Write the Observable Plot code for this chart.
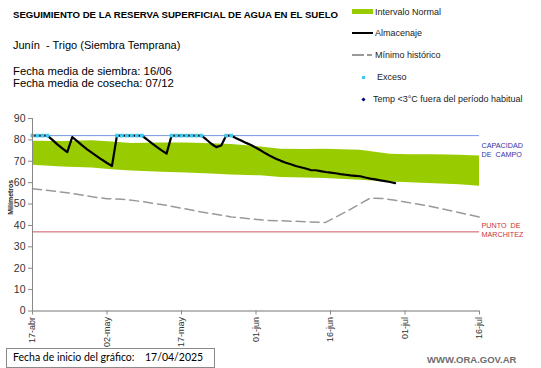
<!DOCTYPE html>
<html>
<head>
<meta charset="utf-8">
<script src="https://cdn.jsdelivr.net/npm/d3@7"></script>
<script src="https://cdn.jsdelivr.net/npm/@observablehq/plot@0.6"></script>
<style>
  html, body { margin: 0; padding: 0; background: #fff; }
  #wrap { position: relative; width: 541px; height: 368px; overflow: hidden; font-family: "Liberation Sans", Arial, sans-serif; color: #000; }
  #wrap svg { position: absolute; left: 0; top: 0; }
  .t { position: absolute; line-height: 1; white-space: pre; }
  .lg { color: #222; }
</style>
</head>
<body>
<div id="wrap"></div>
<script>
// ---- data ----
const startDate = "2025-04-17";
const title = "SEGUIMIENTO DE LA RESERVA SUPERFICIAL DE AGUA EN EL SUELO";
const subtitleLines = ["Junín  - Trigo (Siembra Temprana)", "Fecha media de siembra: 16/06", "Fecha media de cosecha: 07/12"];
const legendLabels = ["Intervalo Normal", "Almacenaje", "Mínimo histórico", "Exceso", "Temp <3°C fuera del período habitual"];

const xTickDays = [0, 15, 30, 45, 60, 75, 90];
const xTickLabels = ["17-abr", "02-may", "17-may", "01-jun", "16-jun", "01-jul", "16-jul"];
const yTicks = [0, 10, 20, 30, 40, 50, 60, 70, 80, 90];

const capacity = 82;
const wilting = 37;
const capacityLabel = "CAPACIDAD\nDE  CAMPO";
const wiltingLabel = "PUNTO  DE\nMARCHITEZ";

// Intervalo normal (band)
const bandDays = [0, 6, 12, 16, 20, 26, 31, 36, 40, 46, 50, 55, 59, 66, 72, 76, 81, 86, 90];
const bandLow  = [68.1, 67.3, 66.9, 66.0, 65.5, 64.9, 64.5, 64.0, 63.6, 63.2, 62.4, 62.2, 61.9, 61.1, 60.3, 60.0, 59.5, 59.0, 58.3];
const bandHigh = [79.4, 79.2, 79.6, 79.0, 78.3, 78.6, 78.6, 78.2, 77.8, 76.7, 75.6, 75.5, 75.6, 75.1, 73.3, 73.0, 73.1, 72.8, 72.5];

// Mínimo histórico
const minDays   = [0, 7, 12, 15, 18, 22, 27, 34, 40, 47, 52, 59, 64, 68, 71, 75, 80, 85, 90];
const minValues = [57.2, 55.3, 53.4, 52.5, 52.3, 51.2, 49.4, 46.3, 44.0, 42.4, 42.0, 41.4, 47.5, 52.8, 52.5, 51.0, 49.0, 46.5, 43.9];

// Almacenaje (daily from start date)
const storage = [82, 82, 82, 82, 80, 77.9, 76, 74.3, 81.3, 79.4, 77.4, 75.6, 73.9, 72.3, 70.7, 69.2, 67.8,
  82, 82, 82, 82, 82, 82, 80.3, 78.5, 76.7, 75.1, 73.6,
  82, 82, 82, 82, 82, 82, 82, 80.2, 78.2, 76.6, 77.4, 82, 82,
  80.8, 79.7, 78.6, 77.6, 76.3, 75, 73.6, 72.3, 71.2, 70.2, 69.3, 68.6, 67.8, 67.2, 66.6, 65.9, 65.8, 65.4,
  65.0, 64.7, 64.4, 64.0, 63.7, 63.4, 63.2, 63.0, 62.4, 61.9, 61.5, 61.1, 60.7, 60.3, 59.8];

// Exceso days
const excessDays = [0, 1, 2, 3, 17, 18, 19, 20, 21, 22, 28, 29, 30, 31, 32, 33, 34, 39, 40];

// ---- build ----
const t0 = Date.parse(startDate + "T00:00:00Z");
const day = d => new Date(t0 + d * 864e5);

const band = bandDays.map((d, i) => ({date: day(d), low: bandLow[i], high: bandHigh[i]}));
const minHist = minDays.map((d, i) => ({date: day(d), v: minValues[i]}));
const store = storage.map((v, i) => ({date: day(i), v}));
const excess = excessDays.map(d => ({date: day(d), v: storage[d]}));
const tickDates = xTickDays.map(day);
const tickLabelMap = new Map(tickDates.map((d, i) => [+d, xTickLabels[i]]));

const chart = Plot.plot({
  width: 541,
  height: 368,
  marginLeft: 32,
  marginRight: 62,
  marginTop: 118,
  marginBottom: 57.5,
  style: {fontFamily: "'Liberation Sans', Arial, sans-serif", background: "transparent", overflow: "visible", color: "#222"},
  x: {type: "utc", domain: [day(0), day(90)]},
  y: {domain: [0, 90]},
  marks: [
    Plot.areaY(band, {x: "date", y1: "low", y2: "high", fill: "#99cc00"}),
    Plot.ruleY([capacity], {stroke: "#7399dd", strokeWidth: 1}),
    Plot.ruleY([wilting], {stroke: "#cc5a66", strokeWidth: 1}),
    Plot.lineY(minHist, {x: "date", y: "v", stroke: "#999", strokeWidth: 1.5, strokeDasharray: "9,5"}),
    Plot.lineY(store, {x: "date", y: "v", stroke: "#000", strokeWidth: 2.2}),
    Plot.dot(excess, {x: "date", y: "v", symbol: "square", r: 2.1, fill: "#40c8f0", stroke: "none"}),
    Plot.ruleX([day(0)], {stroke: "#888", strokeWidth: 1}),
    Plot.ruleY([0], {stroke: "#777", strokeWidth: 1.2}),
    Plot.axisY({ticks: yTicks, tickSize: 4, tickPadding: 3, fontSize: 10.5, label: null, stroke: "#888", fill: "#333"}),
    Plot.axisX({ticks: tickDates, tickFormat: d => tickLabelMap.get(+d), tickRotate: -90, tickSize: 4, tickPadding: 2, fontSize: 9, label: null, stroke: "#888", fill: "#333"}),
    Plot.text(["Milímetros"], {frameAnchor: "left", dx: -22, rotate: -90, fontWeight: "bold", fontSize: 7, fill: "#222"}),
    Plot.text([capacityLabel], {x: () => day(90), y: () => capacity, dx: 2, dy: 14, textAnchor: "start", fontSize: 7.2, lineHeight: 1.25, fill: "#3333aa"}),
    Plot.text([wiltingLabel], {x: () => day(90), y: () => wilting, dx: 2, dy: -2, textAnchor: "start", fontSize: 7.2, lineHeight: 1.15, fill: "#cc3333"})
  ]
});

const wrap = document.getElementById("wrap");
wrap.appendChild(chart);

function addText(txt, left, cy, size, extra = {}) {
  const el = document.createElement("div");
  el.className = "t" + (extra.cls ? " " + extra.cls : "");
  el.textContent = txt;
  el.style.left = left + "px";
  el.style.top = (cy - size / 2) + "px";
  el.style.fontSize = size + "px";
  if (extra.weight) el.style.fontWeight = extra.weight;
  if (extra.color) el.style.color = extra.color;
  if (extra.family) el.style.fontFamily = extra.family;
  if (extra.spacing) el.style.letterSpacing = extra.spacing;
  wrap.appendChild(el);
  return el;
}
function addBox(left, top, w, h, css) {
  const el = document.createElement("div");
  el.style.position = "absolute";
  el.style.left = left + "px"; el.style.top = top + "px";
  el.style.width = w + "px"; el.style.height = h + "px";
  Object.assign(el.style, css);
  wrap.appendChild(el);
  return el;
}

addText(title, 13, 15, 9.6, {weight: "bold"});
addText(subtitleLines[0], 13, 45, 11);
addText(subtitleLines[1], 13, 71.7, 11.3);
addText(subtitleLines[2], 13, 84, 11.3);

// legend
const LS = 9;
addBox(352, 9.3, 21, 5, {background: "#99cc00"});
addText(legendLabels[0], 375, 12.3, LS, {cls: "lg"});
addBox(352, 31.7, 21, 2, {background: "#000"});
addText(legendLabels[1], 375, 33.3, LS, {cls: "lg"});
addBox(352, 54.4, 12, 1.3, {background: "#999"});
addBox(367, 54.4, 5, 1.3, {background: "#999"});
addText(legendLabels[2], 375, 55, LS, {cls: "lg"});
addBox(361.5, 75.8, 3, 3, {background: "#40c8f0"});
addText(legendLabels[3], 377, 77.3, LS, {cls: "lg"});
addBox(361.5, 97.8, 3, 3, {background: "#000080", transform: "rotate(45deg)"});
addText(legendLabels[4], 373, 99.3, LS, {cls: "lg"});

// bottom info box
addBox(6, 348, 207, 18, {border: "1px solid #8a8a8a", background: "#fff"});
addText("Fecha de inicio del gráfico:", 13, 357.5, 10.5, {family: "Lato, 'Liberation Sans', sans-serif"});
addText("17/04/2025", 145, 357.5, 10.5, {family: "Lato, 'Liberation Sans', sans-serif"});
addText("WWW.ORA.GOV.AR", 427, 360, 9.5, {color: "#6e6e6e", weight: "bold"});
</script>
</body>
</html>
